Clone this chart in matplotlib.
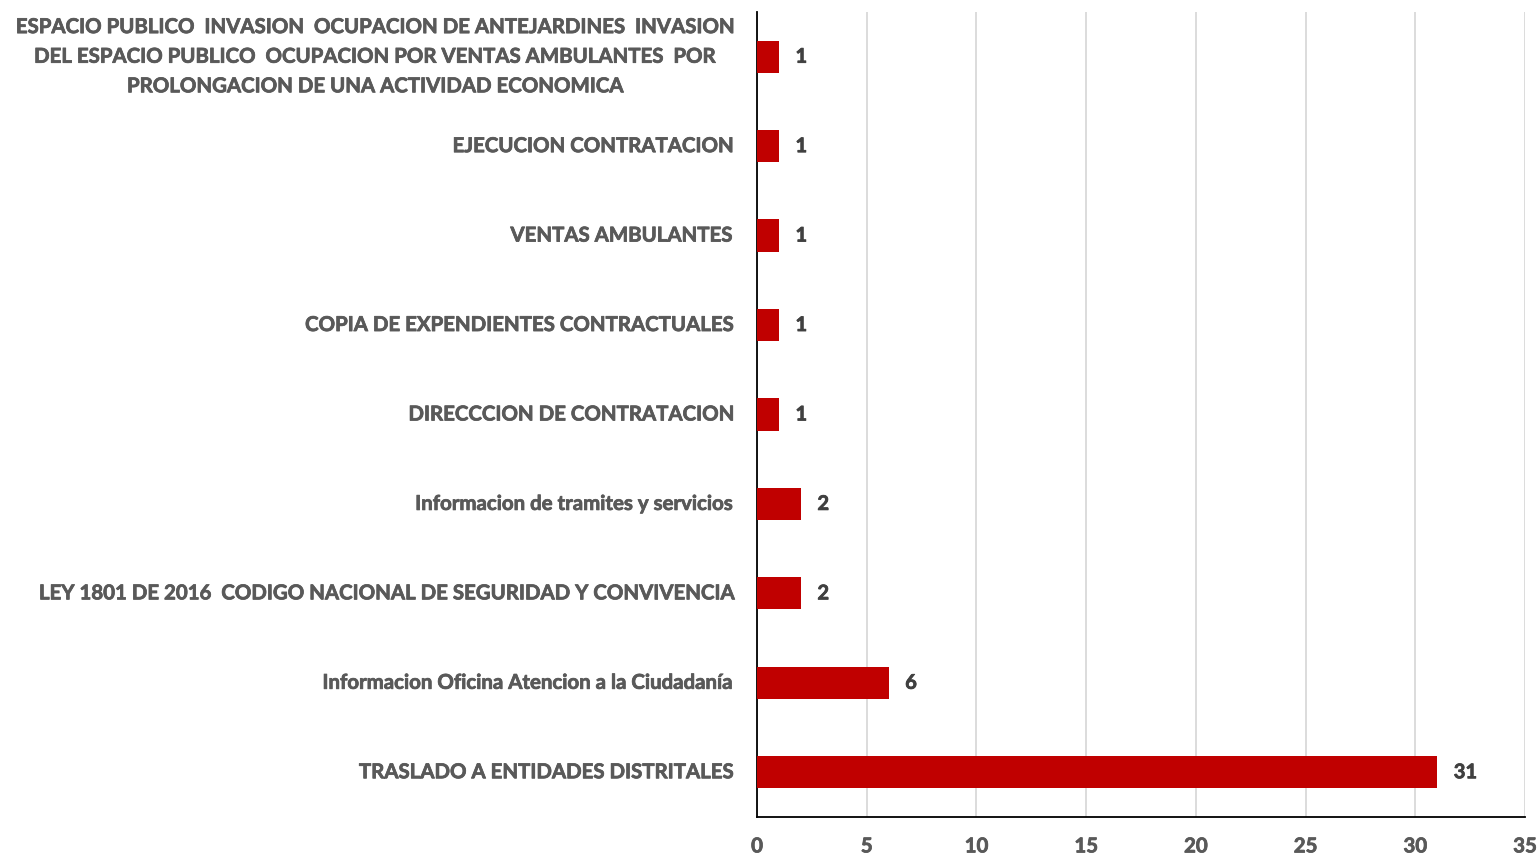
import matplotlib.pyplot as plt
import matplotlib.patheffects as pe

categories = [
    "ESPACIO PUBLICO  INVASION  OCUPACION DE ANTEJARDINES  INVASION\nDEL ESPACIO PUBLICO  OCUPACION POR VENTAS AMBULANTES  POR\nPROLONGACION DE UNA ACTIVIDAD ECONOMICA",
    "EJECUCION CONTRATACION",
    "VENTAS AMBULANTES",
    "COPIA DE EXPENDIENTES CONTRACTUALES",
    "DIRECCCION DE CONTRATACION",
    "Informacion de tramites y servicios",
    "LEY 1801 DE 2016  CODIGO NACIONAL DE SEGURIDAD Y CONVIVENCIA",
    "Informacion Oficina Atencion a la Ciudadanía",
    "TRASLADO A ENTIDADES DISTRITALES",
]
values = [1, 1, 1, 1, 1, 2, 2, 6, 31]
xticks = [0, 5, 10, 15, 20, 25, 30, 35]

plt.rcParams['font.family'] = ['Lato', 'DejaVu Sans']

fig = plt.figure(figsize=(15.4, 8.56), dpi=100)
ax = fig.add_axes([0.4916, 0.0456, 0.4987, 0.9404])

def thick(color):
    return [pe.withStroke(linewidth=0.55, foreground=color)]

pos = list(range(len(categories)))[::-1]
ax.barh(pos, values, height=0.36, color='#C00000', zorder=3)
for p, v in zip(pos, values):
    ax.text(v + 0.75, p, str(v), va='center', ha='left', fontsize=14.5,
            fontweight='bold', color='#404040', path_effects=thick('#404040'))

ax.set_xlim(0, 35)
ax.set_ylim(-0.5, len(categories) - 0.5)
ax.set_xticks(xticks)
ax.set_yticks(pos)
ax.set_yticklabels(categories, fontsize=14.7, fontweight='bold', color='#595959',
                   linespacing=1.6)
for lbl in ax.get_yticklabels():
    lbl.set_multialignment('center')
    lbl.set_verticalalignment('center')
    lbl.set_path_effects(thick('#595959'))
ax.tick_params(axis='y', length=0, pad=18)
ax.tick_params(axis='x', length=0, pad=14, labelsize=14.7, labelcolor='#595959')
for lbl in ax.get_xticklabels():
    lbl.set_fontweight('bold')
    lbl.set_path_effects(thick('#595959'))

ax.grid(axis='x', color='#D9D9D9', linewidth=1.3, zorder=0)
for s in ['top', 'right']:
    ax.spines[s].set_visible(False)
ax.spines['left'].set_color('black')
ax.spines['bottom'].set_color('black')
ax.spines['left'].set_linewidth(1.3)
ax.spines['bottom'].set_linewidth(1.3)

fig.savefig('out.png', dpi=100)
